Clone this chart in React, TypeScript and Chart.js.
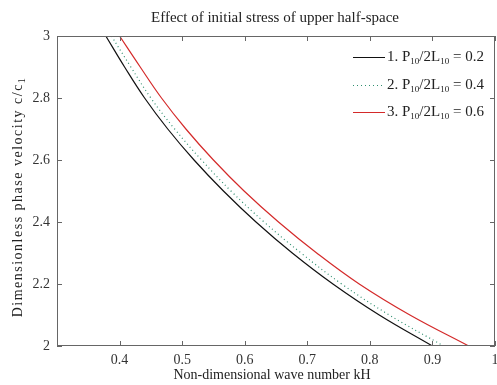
import { useEffect, useRef } from 'react';
import { Chart, registerables } from 'chart.js';

Chart.register(...registerables);

// Dimensionless phase velocity c/c1 (shared sampling levels)
const phaseVelocity = [3.0, 2.9, 2.8, 2.7, 2.6, 2.5, 2.4, 2.3, 2.2, 2.1, 2.0];
// Non-dimensional wave number kH for each curve
const kH1 = [0.378, 0.408, 0.44, 0.477, 0.519, 0.566, 0.618, 0.676, 0.741, 0.815, 0.9];
const kH2 = [0.387, 0.418, 0.45, 0.488, 0.531, 0.578, 0.631, 0.69, 0.755, 0.831, 0.918];
const kH3 = [0.4, 0.433, 0.467, 0.506, 0.55, 0.599, 0.654, 0.715, 0.783, 0.864, 0.958];
const ratioValues = ['0.2', '0.4', '0.6'];
const xTickValues = [0.4, 0.5, 0.6, 0.7, 0.8, 0.9, 1];
const yTickValues = [2, 2.2, 2.4, 2.6, 2.8, 3];

const titleText = 'Effect of initial stress of upper half-space';
const xTitleText = 'Non-dimensional wave number kH';
const yTitleText = 'Dimensionless phase velocity c/c';
const yTitleSub = '1';

const FONT = '"Liberation Serif", "Times New Roman", serif';
const colors = ['#111111', '#2f8f6f', '#d42a2a'];
const dashes: number[][] = [[], [1, 3], []];

function toPoints(ks: number[]) {
  return ks.map((k, i) => ({ x: k, y: phaseVelocity[i] }));
}

const decorPlugin = {
  id: 'decor',
  afterDraw(chart: any) {
    const { ctx, chartArea: a, scales } = chart;
    ctx.save();
    // frame
    ctx.strokeStyle = '#666';
    ctx.lineWidth = 1;
    ctx.strokeRect(a.left + 0.5, a.top + 0.5, a.right - a.left - 1, a.bottom - a.top - 1);
    // inward ticks
    const tl = 5;
    ctx.beginPath();
    xTickValues.forEach((v) => {
      const px = Math.round(scales.x.getPixelForValue(v)) + 0.5;
      ctx.moveTo(px, a.bottom);
      ctx.lineTo(px, a.bottom - tl);
      ctx.moveTo(px, a.top);
      ctx.lineTo(px, a.top + tl);
    });
    yTickValues.forEach((v) => {
      const py = Math.round(scales.y.getPixelForValue(v)) + 0.5;
      ctx.moveTo(a.left, py);
      ctx.lineTo(a.left + tl, py);
      ctx.moveTo(a.right, py);
      ctx.lineTo(a.right - tl, py);
    });
    ctx.stroke();

    // titles
    ctx.fillStyle = '#222';
    ctx.textBaseline = 'middle';
    ctx.textAlign = 'center';
    ctx.font = `15px ${FONT}`;
    ctx.fillText(titleText, 275, 18);
    ctx.font = `14px ${FONT}`;
    ctx.fillText(xTitleText, 272, 375);

    // y title with subscript
    ctx.save();
    ctx.translate(18, 197);
    ctx.rotate(-Math.PI / 2);
    (ctx as any).letterSpacing = '1.5px';
    ctx.font = `14px ${FONT}`;
    const w1 = ctx.measureText(yTitleText).width;
    ctx.font = `10px ${FONT}`;
    const w2 = ctx.measureText(yTitleSub).width;
    const start = -(w1 + w2) / 2;
    ctx.textAlign = 'left';
    ctx.font = `14px ${FONT}`;
    ctx.fillText(yTitleText, start, 0);
    ctx.font = `10px ${FONT}`;
    ctx.fillText(yTitleSub, start + w1, 4);
    (ctx as any).letterSpacing = '0px';
    ctx.restore();

    // legend
    const lx0 = 353;
    const lx1 = 385;
    const rows = [57, 85, 112];
    ratioValues.forEach((r, i) => {
      const y = rows[i];
      ctx.strokeStyle = colors[i];
      ctx.setLineDash(dashes[i]);
      ctx.lineWidth = 1;
      ctx.beginPath();
      ctx.moveTo(lx0, y + 0.5);
      ctx.lineTo(lx1, y + 0.5);
      ctx.stroke();
      ctx.setLineDash([]);
      ctx.fillStyle = '#222';
      ctx.textAlign = 'left';
      const parts: [string, boolean][] = [
        [`${i + 1}. P`, false],
        ['10', true],
        ['/2L', false],
        ['10', true],
        [` = ${r}`, false],
      ];
      let total = 0;
      parts.forEach(([t, sub]) => {
        ctx.font = sub ? `9px ${FONT}` : `15px ${FONT}`;
        total += ctx.measureText(t).width;
      });
      const sx = Math.min(1, 99 / total);
      ctx.save();
      ctx.translate(lx1 + 2, y);
      ctx.scale(sx, 1);
      let x = 0;
      parts.forEach(([t, sub]) => {
        ctx.font = sub ? `9px ${FONT}` : `15px ${FONT}`;
        ctx.fillText(t, x, sub ? 5 : 0);
        x += ctx.measureText(t).width;
      });
      ctx.restore();
    });
    ctx.restore();
  },
};

export default function App() {
  const ref = useRef<HTMLCanvasElement>(null);
  useEffect(() => {
    if (!ref.current) return;
    const series = [kH1, kH2, kH3];
    const chart = new Chart(ref.current, {
      type: 'line',
      data: {
        datasets: series.map((ks, i) => ({
          label: `${i + 1}. P10/2L10 = ${ratioValues[i]}`,
          data: toPoints(ks),
          borderColor: colors[i],
          borderWidth: 1.2,
          borderDash: dashes[i],
          pointRadius: 0,
          tension: 0.4,
          fill: false,
        })),
      },
      options: {
        animation: false,
        responsive: false,
        maintainAspectRatio: false,
        layout: { padding: { top: 36, right: 2, left: 0, bottom: 0 } },
        plugins: {
          legend: { display: false },
          title: { display: false },
          tooltip: { enabled: false },
        },
        scales: {
          x: {
            type: 'linear',
            min: 0.3,
            max: 1,
            grid: { display: false, drawTicks: false },
            border: { display: false },
            afterBuildTicks: (s: any) => {
              s.ticks = [0.3, ...xTickValues].map((v) => ({ value: v }));
            },
            ticks: {
              padding: 6,
              color: '#333',
              font: { family: FONT, size: 14 },
              maxRotation: 0,
              autoSkip: false,
              callback: (v: any) => (Math.abs(v - 0.3) < 1e-6 ? '' : String(Math.round(v * 10) / 10)),
            },
            afterFit: (s: any) => {
              s.height = 39;
              s.paddingRight = 0;
              s.paddingLeft = 0;
            },
          },
          y: {
            type: 'linear',
            min: 2,
            max: 3,
            grid: { display: false, drawTicks: false },
            border: { display: false },
            afterBuildTicks: (s: any) => {
              s.ticks = yTickValues.map((v) => ({ value: v }));
            },
            ticks: {
              padding: 7,
              color: '#333',
              font: { family: FONT, size: 14 },
              autoSkip: false,
              callback: (v: any) => String(Math.round(v * 10) / 10),
            },
            afterFit: (s: any) => {
              s.width = 57;
            },
          },
        },
      },
      plugins: [decorPlugin],
    });
    return () => chart.destroy();
  }, []);
  return (
    <div style={{ position: 'absolute', left: 0, top: 0, width: 497, height: 385, background: '#fff' }}>
      <canvas ref={ref} width={497} height={385} style={{ display: 'block' }} />
    </div>
  );
}
